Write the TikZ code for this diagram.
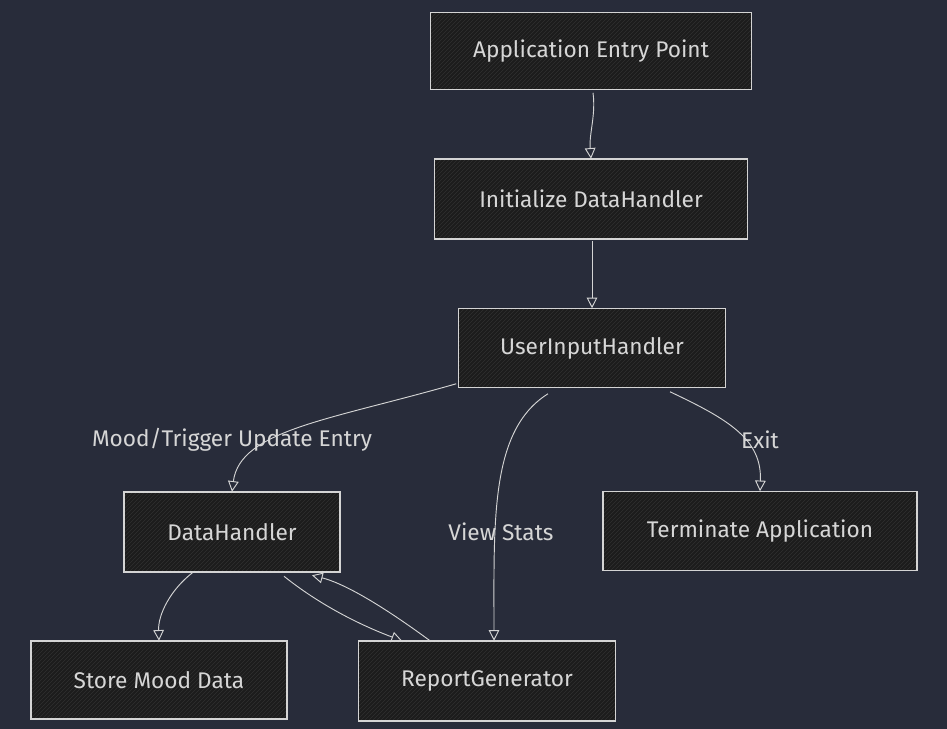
\documentclass[tikz,border=0pt]{standalone}
\usepackage{fontspec}
\setmainfont{Fira Sans}
\usetikzlibrary{arrows.meta, positioning, calc, patterns}
\definecolor{bgblue}{HTML}{282C3A}
\definecolor{boxdark}{HTML}{1C1C1C}
\definecolor{hatchgray}{HTML}{303030}
\definecolor{linegray}{HTML}{D4D4D4}
\definecolor{textgray}{HTML}{D6D6D6}

\tikzset{
  flowbox/.style={fill=boxdark, text=textgray,
    font=\fontsize{17}{20}\selectfont,
    postaction={pattern=north east lines, pattern color=hatchgray},
    postaction={draw=linegray, line width=0.9pt}},
  flowarrow/.style={draw=linegray, line width=0.7pt,
    -{Triangle[open, length=8pt, width=8pt]}},
  edgelabel/.style={text=textgray, font=\fontsize{17}{20}\selectfont}
}

\begin{document}
\begin{tikzpicture}[x=0.75pt, y=-0.75pt]
  % Background
  \fill[bgblue] (0,0) rectangle (947,729);
  \useasboundingbox (0,0) rectangle (947,729);

  % Boxes
  \node[flowbox, minimum width=240.75pt, minimum height=57.75pt] (entry) at (591,51) {Application Entry Point};
  \node[flowbox, minimum width=234.75pt, minimum height=60pt] (init) at (591,199) {Initialize DataHandler};
  \node[flowbox, minimum width=200.25pt, minimum height=59.25pt] (uih) at (592,348) {UserInputHandler};
  \node[flowbox, minimum width=162pt, minimum height=60pt] (datah) at (232,532) {DataHandler};
  \node[flowbox, minimum width=235.5pt, minimum height=59.25pt] (term) at (760,531) {Terminate Application};
  \node[flowbox, minimum width=192pt, minimum height=58.5pt] (store) at (159,680) {Store Mood Data};
  \node[flowbox, minimum width=192.75pt, minimum height=60pt] (report) at (487,681) {ReportGenerator};

  % Connectors
  \draw[flowarrow] ($(entry.south)+(2,3)$) .. controls ($(entry.south)+(5,25)$) and ($(init.north)+(-2,-25)$) .. (init.north);
  \draw[flowarrow] ($(init.south)+(1,2)$) -- ($(uih.north)+(0,0)$);
  \draw[flowarrow] ($(uih.south west)+(-2,-4)$) .. controls (330,420) and (240,430) .. ($(datah.north)+(0,0)$);
  \draw[flowarrow] ($(uih.south)+(-44,6)$) .. controls (490,430) and (494,520) .. ($(report.north)+(7,0)$);
  \draw[flowarrow] ($(uih.south)+(78,4)$) .. controls (730,420) and (762,440) .. (term.north);
  \draw[flowarrow] ($(datah.south)+(-39,0)$) .. controls (170,590) and (158,615) .. ($(store.north)+(0,0)$);
  \draw[flowarrow] ($(datah.south)+(52,4)$) .. controls (320,605) and (360,625) .. ($(report.north)+(-85,0)$);
  \draw[flowarrow] ($(report.north)+(-57,0)$) .. controls (395,615) and (350,585) .. ($(datah.south)+(80,3)$);

  % Edge labels
  \node[edgelabel] (lblmood) at (232,440) {Mood/Trigger Update Entry};
  \node[edgelabel] (lblview) at (501,532) {View Stats};
  \node[edgelabel] (lblexit) at (760,440) {Exit};
\end{tikzpicture}
\end{document}
